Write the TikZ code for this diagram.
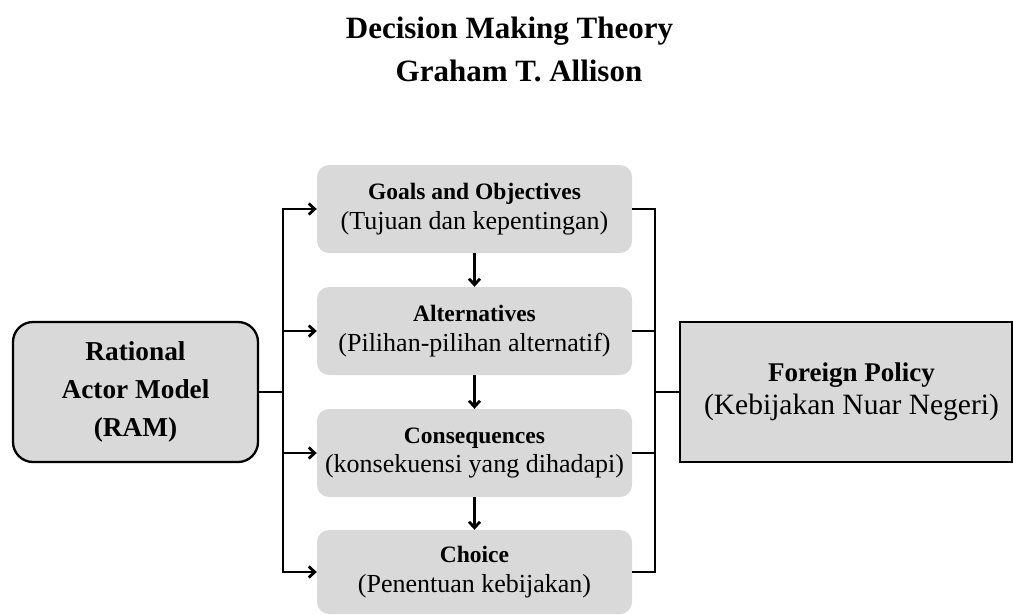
\documentclass[tikz,border=0pt]{standalone}
\usepackage{fontspec}
\setmainfont{Liberation Serif}
\usetikzlibrary{arrows.meta}
\definecolor{boxgray}{HTML}{D9D9D9}
\begin{document}
\begin{tikzpicture}[x=1pt,y=-1pt,
  conn/.style={line width=2.8pt},
  arr/.style={conn,-{Straight Barb[length=6pt,width=11pt]}},
  stepbox/.style={fill=boxgray, rounded corners=12pt, minimum width=315pt,
    minimum height=88pt, inner sep=0pt, align=center,
    font=\fontsize{26}{29.5}\selectfont},
  titlefont/.style={font=\bfseries\fontsize{31}{42}\selectfont, anchor=base, inner sep=0pt},
]
\useasboundingbox (0,0) rectangle (1014,614);

\node[titlefont] (t1) at (509.5,38) {Decision Making Theory};
\node[titlefont] (t2) at (519,81) {Graham T. Allison};

\node[stepbox] (goals) at (474.5,209)
  {{\bfseries\fontsize{23.5}{29.5}\selectfont Goals and Objectives}\\(Tujuan dan kepentingan)};
\node[stepbox] (alt) at (474.5,331)
  {{\bfseries\fontsize{23.5}{29.5}\selectfont Alternatives}\\(Pilihan-pilihan alternatif)};
\node[stepbox] (cons) at (474.5,453)
  {{\bfseries\fontsize{23.5}{29.5}\selectfont Consequences}\\(konsekuensi yang dihadapi)};
\node[stepbox, minimum height=84pt] (choice) at (474.5,572)
  {{\bfseries\fontsize{23.5}{29.5}\selectfont Choice}\\(Penentuan kebijakan)};

\node[draw, line width=2.3pt, fill=boxgray, rounded corners=20pt, minimum width=245pt,
  minimum height=140pt, inner sep=0pt, align=center,
  font=\bfseries\fontsize{27.3}{38}\selectfont] (ram) at (135.5,392)
  {Rational\\Actor Model\\(RAM)};

\node[draw, line width=2.6pt, fill=boxgray, minimum width=332pt, minimum height=140pt,
  inner sep=0pt, align=center, font=\fontsize{29.5}{33}\selectfont] (fp) at (846,392)
  {\hspace*{11pt}{\bfseries\fontsize{27}{33}\selectfont Foreign Policy}\\\hspace*{11pt}(Kebijakan Nuar Negeri)};

\coordinate (lb) at (283,392);
\coordinate (rb) at (655,392);

% left bus and arrows
\draw[conn, line cap=rect] (goals.west -| lb) -- (choice.west -| lb);
\foreach \n in {goals,alt,cons,choice}
  \draw[arr] (\n.west -| lb) -- (\n.west);
\draw[conn] (ram.east) -- (lb);

% vertical arrows
\draw[arr] (goals.south) -- (alt.north);
\draw[arr] (alt.south) -- (cons.north);
\draw[arr] (cons.south) -- (choice.north);

% right bus
\draw[conn] (goals.east) -| (choice.east -| rb) -- (choice.east);
\draw[conn] (alt.east) -- (alt.east -| rb);
\draw[conn] (cons.east) -- (cons.east -| rb);
\draw[conn] (rb) -- (fp.west);
\end{tikzpicture}
\end{document}
